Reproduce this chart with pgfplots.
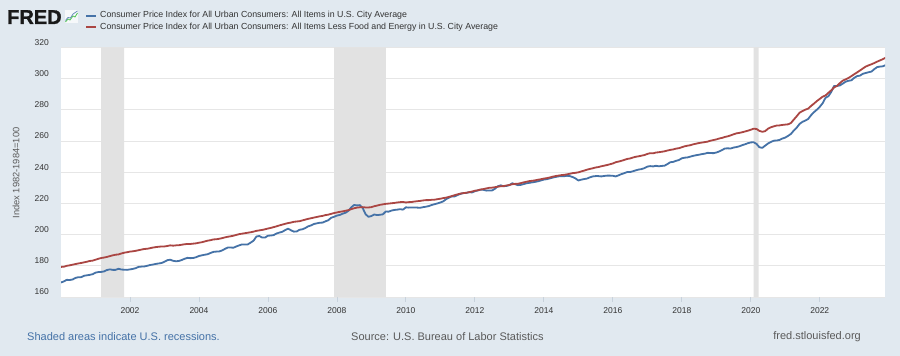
\documentclass[border=0pt]{standalone}
\usepackage{pgfplots}
\usepackage{pgfplotstable}
\pgfplotsset{compat=1.18}
\usepackage{fontspec}
\setmainfont{Liberation Sans}
\newfontfamily\fredfont[FakeBold=1.6]{Liberation Sans Bold}
\definecolor{bgc}{HTML}{E1E9F0}
\definecolor{gridc}{HTML}{E6E6E6}
\definecolor{recc}{HTML}{E2E2E2}
\definecolor{cpiblue}{HTML}{4572A7}
\definecolor{corered}{HTML}{AA4643}
\definecolor{labc}{HTML}{333333}
\definecolor{linkc}{HTML}{4572A7}
\definecolor{srcc}{HTML}{5A5A5A}
\definecolor{tickc}{HTML}{C8D2DC}

% monthly values Jan 2000 - Dec 2023
\pgfplotstableread{
cpi core
169.3 179.3
170.0 179.4
171.0 180.0
170.9 180.3
171.2 180.7
172.2 181.1
172.7 181.5
172.7 181.8
173.6 182.2
173.9 182.6
174.2 183.1
174.6 183.3
175.6 183.9
176.0 184.5
176.1 185.0
176.4 185.3
177.3 185.7
177.7 186.2
177.4 186.7
177.4 187.1
178.1 187.3
177.6 187.9
177.5 188.4
177.4 188.7
177.7 189.1
178.0 189.3
178.5 189.6
179.3 190.0
179.5 190.4
179.6 190.8
180.0 190.9
180.5 191.3
180.8 191.7
181.2 192.0
181.5 192.2
181.8 192.4
182.6 192.4
183.6 192.7
183.9 193.1
183.2 192.9
182.9 193.1
183.1 193.2
183.7 193.5
184.5 193.8
185.1 194.0
184.9 194.0
185.0 194.2
185.5 194.4
186.3 194.8
186.7 195.1
187.1 195.6
187.4 196.1
188.2 196.4
188.9 196.9
189.1 197.0
189.2 197.3
189.8 197.7
190.8 198.2
191.7 198.6
191.7 198.9
191.6 199.3
192.4 199.8
193.1 200.3
193.7 200.6
193.6 200.9
193.7 201.2
194.9 201.5
196.1 201.9
198.8 202.4
199.1 202.7
198.1 203.0
198.1 203.4
199.3 203.9
199.4 204.3
199.7 204.8
200.7 205.3
201.3 205.9
201.8 206.4
202.9 206.9
203.8 207.4
202.8 207.7
201.9 208.2
202.0 208.4
203.1 208.6
203.4 209.1
204.2 209.6
205.3 210.1
205.9 210.5
206.8 210.9
207.2 211.3
207.6 211.7
207.7 212.0
208.5 212.5
209.2 212.8
210.8 213.3
211.4 213.8
212.2 214.2
212.6 214.6
213.4 214.9
214.0 215.3
215.2 215.7
217.5 216.3
219.0 216.9
218.7 217.3
218.9 217.5
216.9 217.6
213.0 217.4
211.4 217.4
211.9 217.6
212.9 218.2
212.5 218.6
212.7 219.1
213.0 219.4
214.8 219.7
214.7 219.9
215.4 220.1
215.8 220.3
216.0 220.6
216.3 220.8
216.0 220.9
217.5 220.6
217.3 220.8
217.4 220.9
217.4 221.2
217.3 221.4
217.2 221.6
217.6 221.9
217.9 222.1
218.3 222.1
219.0 222.3
219.5 222.4
220.0 222.7
220.6 223.0
221.3 223.4
222.7 223.7
223.7 224.2
224.5 224.7
224.5 225.3
225.4 225.8
226.1 226.3
226.6 226.6
226.7 226.8
227.2 227.2
227.0 227.6
227.8 228.1
228.3 228.4
228.8 228.9
228.7 229.2
228.2 229.6
228.3 230.0
228.3 230.1
229.4 230.4
231.0 230.7
231.6 231.0
231.0 231.1
231.2 231.5
231.7 231.8
232.9 232.3
232.3 232.5
231.7 232.6
231.9 233.0
232.4 233.5
232.9 233.9
233.2 234.3
233.5 234.5
233.8 234.8
234.2 235.2
234.7 235.5
235.3 235.9
235.5 236.2
236.0 236.6
236.5 237.1
236.9 237.5
237.3 237.8
237.5 238.1
237.4 238.3
237.7 238.6
237.5 239.0
236.9 239.4
236.0 239.6
234.7 239.9
235.2 240.5
235.6 241.0
235.9 241.6
236.7 242.1
237.3 242.5
237.5 243.0
237.5 243.3
237.3 243.8
237.6 244.2
237.8 244.6
237.8 245.1
237.7 245.6
237.3 246.4
238.0 246.8
238.8 247.3
239.4 247.9
240.1 248.5
240.1 248.8
240.6 249.4
241.2 249.9
241.7 250.2
242.0 250.6
242.6 251.0
243.6 251.7
243.9 252.2
243.7 252.1
244.1 252.6
243.8 252.8
244.0 253.1
244.2 253.4
245.2 253.9
246.4 254.3
246.6 254.6
247.3 255.1
247.8 255.4
248.9 256.0
249.3 256.6
249.5 257.0
250.0 257.3
250.5 257.9
250.9 258.3
251.2 258.7
251.6 259.0
251.9 259.3
252.4 259.6
252.3 260.2
252.2 260.6
252.6 261.0
253.3 261.6
254.2 262.0
255.2 262.6
255.3 263.0
255.2 263.6
255.8 264.3
256.1 264.9
256.6 265.2
257.3 265.6
257.9 266.1
258.6 266.6
259.1 267.2
259.2 267.9
258.1 267.7
256.0 266.5
255.6 265.9
257.0 266.3
258.4 267.9
259.4 268.8
260.2 269.4
260.3 269.9
260.7 270.0
261.6 270.3
262.2 270.5
263.3 270.7
264.6 271.6
266.8 273.8
268.6 275.9
271.0 278.2
272.3 279.2
273.1 280.1
274.2 280.8
276.6 282.5
278.5 284.0
280.1 285.6
281.9 287.0
284.2 288.4
287.7 289.2
288.7 290.9
291.5 292.5
295.3 294.4
295.3 295.3
295.6 297.1
296.8 298.7
298.0 299.5
298.6 300.4
298.9 301.6
300.5 302.8
301.6 304.0
301.9 305.2
303.1 306.5
303.6 307.7
304.1 308.5
304.5 309.2
306.1 310.0
307.4 310.9
307.7 311.7
307.9 312.5
308.7 313.4
}\datatable

\begin{document}
\begin{tikzpicture}[x=1pt,y=1pt]
\fill[bgc] (0pt,0pt) rectangle (900pt,356pt);
% logo
\node[anchor=base west, inner sep=0pt, font=\fontsize{20}{20}\fredfont, text=black!90] at (7pt,332pt) {FRED};
\fill[white!70!bgc] (65pt,333pt) rectangle (78pt,346pt);
\draw[color=green!50!gray!90, line width=0.8pt] (65.5pt,334pt) -- (68pt,337pt) -- (70pt,336pt) -- (73pt,340pt) -- (75pt,339pt) -- (77.5pt,343pt);
\draw[color=cpiblue!80, line width=0.8pt] (65.5pt,335.5pt) -- (68pt,338.5pt) -- (70.5pt,338pt) -- (73pt,342pt) -- (77.5pt,345pt);
% legend
\draw[cpiblue, line width=2pt] (86pt,340.3pt) -- (96pt,340.3pt);
\draw[corered, line width=2pt] (86pt,328.7pt) -- (96pt,328.7pt);
\node[anchor=west, inner sep=0pt, text=labc, font=\fontsize{8.8}{10}\selectfont] at (100pt,340.6pt) {Consumer Price Index for All Urban Consumers: All Items in U.S. City Average};
\node[anchor=west, inner sep=0pt, text=labc, font=\fontsize{8.8}{10}\selectfont] at (100pt,329.0pt) {Consumer Price Index for All Urban Consumers: All Items Less Food and Energy in U.S. City Average};
% footer
\node[anchor=west, inner sep=0pt, text=linkc, font=\fontsize{11}{12}\selectfont] at (27pt,19.5pt) {Shaded areas indicate U.S. recessions.};
\node[anchor=west, inner sep=0pt, text=srcc, font=\fontsize{11}{12}\selectfont] at (351pt,19.5pt) {Source: U.S. Bureau of Labor Statistics};
\node[anchor=east, inner sep=0pt, text=srcc, font=\fontsize{11}{12}\selectfont] at (861pt,19.5pt) {fred.stlouisfed.org};
% y label
\node[rotate=90, inner sep=0pt, text=srcc, font=\fontsize{9.3}{10}\selectfont] at (16pt,183pt) {Index 1982-1984=100};
\begin{axis}[
  at={(61pt,59pt)}, anchor=south west,
  width=824pt, height=249.6pt, scale only axis,
  xmin=0, xmax=286.7, ymin=160, ymax=320,
  axis background/.style={fill=white},
  axis line style={draw=none},
  ymajorgrids, grid style={color=gridc, line width=0.9pt},
  ytick={160,180,...,320},
  xtick={24,48,...,264},
  xticklabels={2002,2004,2006,2008,2010,2012,2014,2016,2018,2020,2022},
  tick align=outside, major tick length=5pt,
  xtick pos=left, ytick pos=left,
  x tick style={color=tickc, line width=0.8pt},
  y tick style={draw=none},
  /pgf/number format/assume math mode=true,
  /pgf/number format/1000 sep={},
  tick label style={font=\fontsize{8.5}{9}\selectfont, text=labc, inner sep=0pt},
  yticklabel style={anchor=east, xshift=-7pt, yshift=5pt},
  xticklabel style={anchor=north, yshift=-5pt},
  clip=true,
]
\addplot[fill=recc, draw=none, forget plot] coordinates {(14,160) (14,320) (22,320) (22,160)} \closedcycle;
\addplot[fill=recc, draw=none, forget plot] coordinates {(95,160) (95,320) (113,320) (113,160)} \closedcycle;
\addplot[fill=recc, draw=none, forget plot] coordinates {(241,160) (241,320) (242.7,320) (242.7,160)} \closedcycle;
\addplot[cpiblue, line width=1.8pt, line join=round, mark=none] table[x expr=\coordindex, y=cpi] {\datatable};
\addplot[corered, line width=1.8pt, line join=round, mark=none] table[x expr=\coordindex, y=core] {\datatable};
\end{axis}
\end{tikzpicture}
\end{document}
